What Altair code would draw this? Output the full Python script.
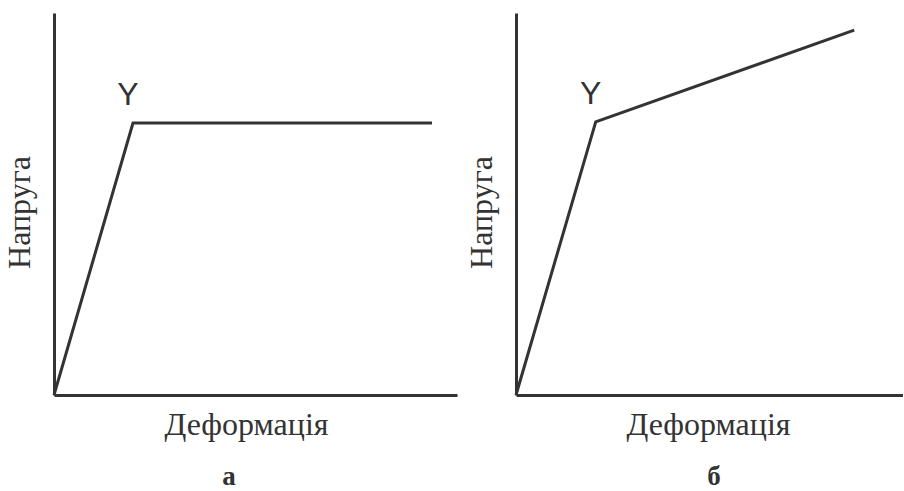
import altair as alt
import pandas as pd

# Idealised stress–strain curves (arbitrary units, 0–100 on both axes)
strain_a = [0, 19.6, 93.8]
stress_a = [0, 71.2, 71.2]
strain_b = [0, 20.6, 87.4]
stress_b = [0, 71.5, 95.5]
point_labels = ["", "Y", ""]
panel_letters = ["а", "б"]
x_title = "Деформація"
y_title = "Напруга"

INK = "#333333"
SERIF = "Liberation Serif"
SANS = "Liberation Sans"
PLOT_H = 382


def panel(strain, stress, letter, width, letter_x):
    df = pd.DataFrame({"strain": strain, "stress": stress, "label": point_labels})
    x = alt.X(
        "strain:Q",
        scale=alt.Scale(domain=[0, 100], nice=False),
        axis=alt.Axis(
            title=x_title, labels=False, ticks=False, grid=False,
            domainColor=INK, domainWidth=3,
            titleFont=SERIF, titleFontSize=32, titleFontWeight="normal",
            titleColor=INK, titleX=192, titlePadding=14,
        ),
    )
    y = alt.Y(
        "stress:Q",
        scale=alt.Scale(domain=[0, 100], nice=False),
        axis=alt.Axis(
            title=y_title, labels=False, ticks=False, grid=False,
            domainColor=INK, domainWidth=3,
            titleFont=SERIF, titleFontSize=32, titleFontWeight="normal",
            titleColor=INK, titleY=199, titlePadding=18,
        ),
    )
    line = alt.Chart(df).mark_line(color=INK, strokeWidth=3).encode(x=x, y=y)
    # "Y" marks the yield point (only the labelled vertex gets a text mark)
    yield_label = (
        alt.Chart(df)
        .transform_filter("datum.label != ''")
        .mark_text(font=SANS, fontSize=32, color=INK, dx=-5, dy=-28, baseline="middle")
        .encode(x=x, y=y, text="label:N")
    )
    # panel letter under the axis title
    letter_mark = alt.Chart(pd.DataFrame({"letter": [letter]})).mark_text(
        font=SERIF, fontSize=27, fontWeight="bold", color=INK,
        baseline="alphabetic", align="center",
    ).encode(
        x=alt.value(letter_x), y=alt.value(PLOT_H + 90), text="letter:N"
    )
    return alt.layer(line, yield_label, letter_mark).properties(
        width=width, height=PLOT_H
    )


chart = (
    alt.hconcat(
        panel(strain_a, stress_a, panel_letters[0], 403, 175),
        panel(strain_b, stress_b, panel_letters[1], 387, 198),
        spacing=8,
    )
    .properties(
        padding={"left": 3, "top": 13, "right": 0, "bottom": 0},
        background="white",
    )
    .configure_view(strokeWidth=0)
)

chart.save("out.html", embed_options={"renderer": "svg", "actions": False})
